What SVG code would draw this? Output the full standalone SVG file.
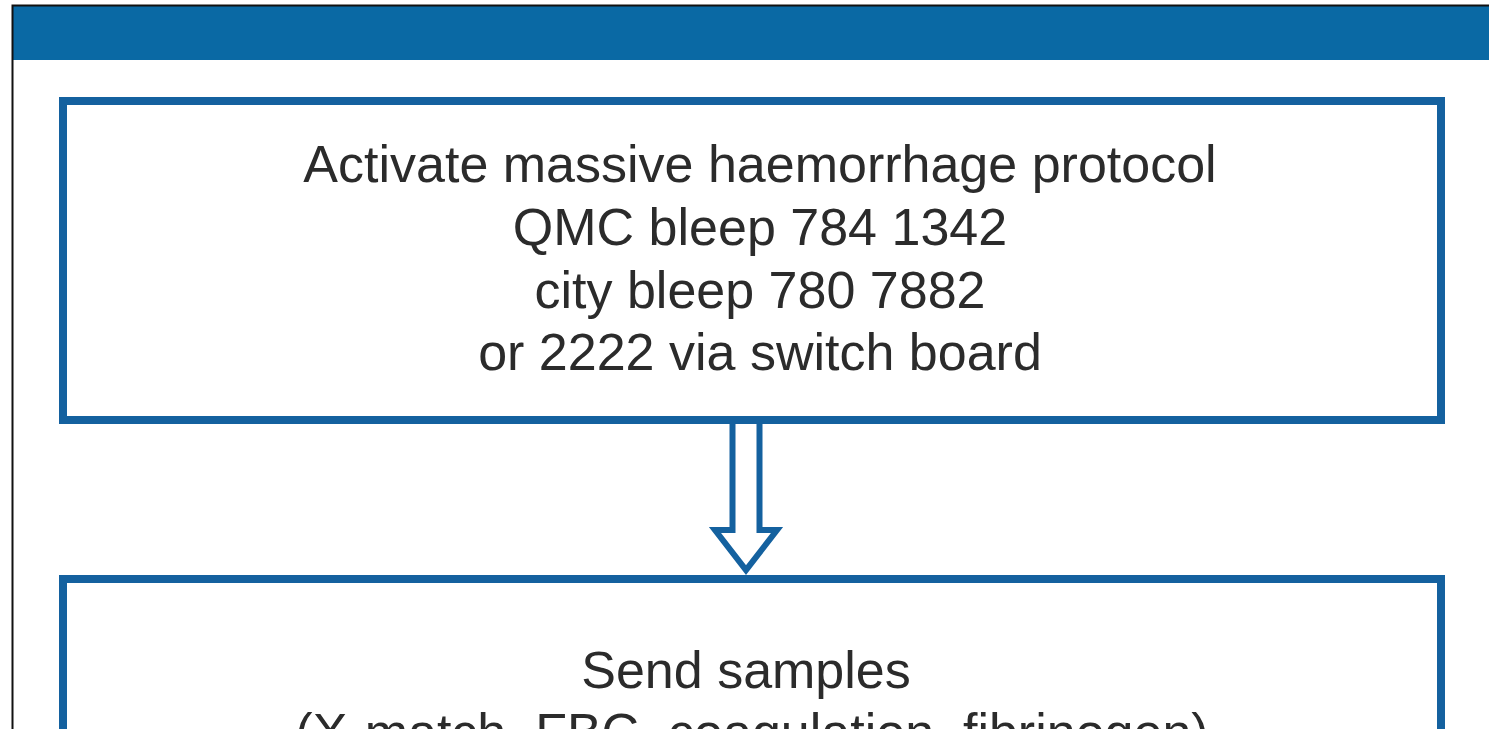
<svg xmlns="http://www.w3.org/2000/svg" width="1489" height="729" viewBox="0 0 1489 729">
<style>
.box{fill:#ffffff;stroke:#14619f;stroke-width:8}
.t{font-family:"Liberation Sans",Arial,sans-serif;font-size:52px;fill:#2b2b2b;text-anchor:middle}
.arrow{fill:#ffffff;stroke:#14619f;stroke-width:6;stroke-linejoin:miter}
</style>
<rect x="0" y="0" width="1489" height="729" fill="#ffffff"/>
<rect x="13" y="6" width="1476" height="54" fill="#0a69a4"/>
<path d="M12.5,729 V5.5 H1489" fill="none" stroke="#111111" stroke-width="2"/>
<g id="connectors">
<path class="arrow" d="M732.5,418 V530 H715 L746,570 L777,530 H759.5 V418"/>
</g>
<g id="node1">
<rect class="box" x="63" y="101" width="1378" height="319"/>
<text class="t" x="760" y="182">Activate massive haemorrhage protocol</text>
<text class="t" x="760" y="245">QMC bleep 784 1342</text>
<text class="t" x="760" y="308">city bleep 780 7882</text>
<text class="t" x="760" y="370">or 2222 via switch board</text>
</g>
<g id="node2">
<rect class="box" x="63" y="579" width="1378" height="200"/>
<text class="t" x="746" y="688">Send samples</text>
<text class="t" x="752" y="750">(X-match, FBC, coagulation, fibrinogen)</text>
</g>
</svg>
